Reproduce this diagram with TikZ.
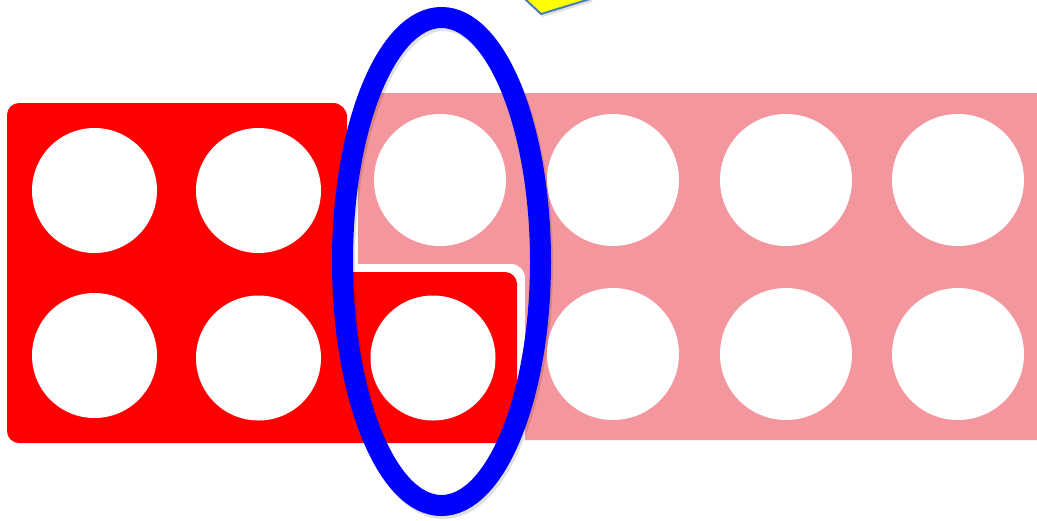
\documentclass[tikz,border=0pt]{standalone}
\definecolor{numred}{RGB}{255,0,0}
\definecolor{numpink}{RGB}{244,150,157}
\definecolor{ringblue}{RGB}{0,0,255}
\definecolor{tagyellow}{RGB}{255,255,0}
\definecolor{tagedge}{RGB}{74,126,187}
\tikzset{
  hole/.style={fill=white},
  piece/.style={line join=round},
}
\begin{document}
\begin{tikzpicture}[x=1pt,y=-1pt]
\useasboundingbox (0,0) rectangle (1037,520);
\clip (0,0) rectangle (1037,520);
% yellow tag at top (cut off)
\fill[black,opacity=0.12] (543,17) -- (592,2) -- (592,-30) -- (522,-30) -- (527,2) -- cycle;
\filldraw[fill=tagyellow,draw=tagedge,line width=2,line join=round] (541,14) -- (590,-1) -- (590,-30) -- (520,-30) -- (525,-1) -- cycle;
% pink ten piece
\fill[numpink,rounded corners=8] (358,93) rectangle (1050,440);
\foreach \x in {440,613,786,958}{
  \fill[hole] (\x,180) circle (66);
  \fill[hole] (\x,354) circle (66);
}
% red five piece with white outline
\fill[white,rounded corners=14] (347,264) -- (525,264) -- (525,451) -- (340,451) -- cycle;
\fill[numred,rounded corners=14] (7,103) -- (347,103) -- (347,272) [sharp corners]-- (347,272) [rounded corners=12]-- (517,272) -- (517,443) -- (7,443) -- cycle;
\fill[numred] (330,272) rectangle (360,300);
\fill[hole] (94.5,190.5) circle (62.5);
\fill[hole] (258.5,190.5) circle (62.5);
\fill[hole] (94.5,355.5) circle (62.5);
\fill[hole] (258.5,358) circle (62.5);
\fill[hole] (433,358) circle (62.5);
% blue ring
\draw[black,opacity=0.12,line width=21] (443.5,264.5) ellipse [x radius=99,y radius=244];
\draw[ringblue,line width=21] (441.5,261.5) ellipse [x radius=99,y radius=244];
\end{tikzpicture}
\end{document}
